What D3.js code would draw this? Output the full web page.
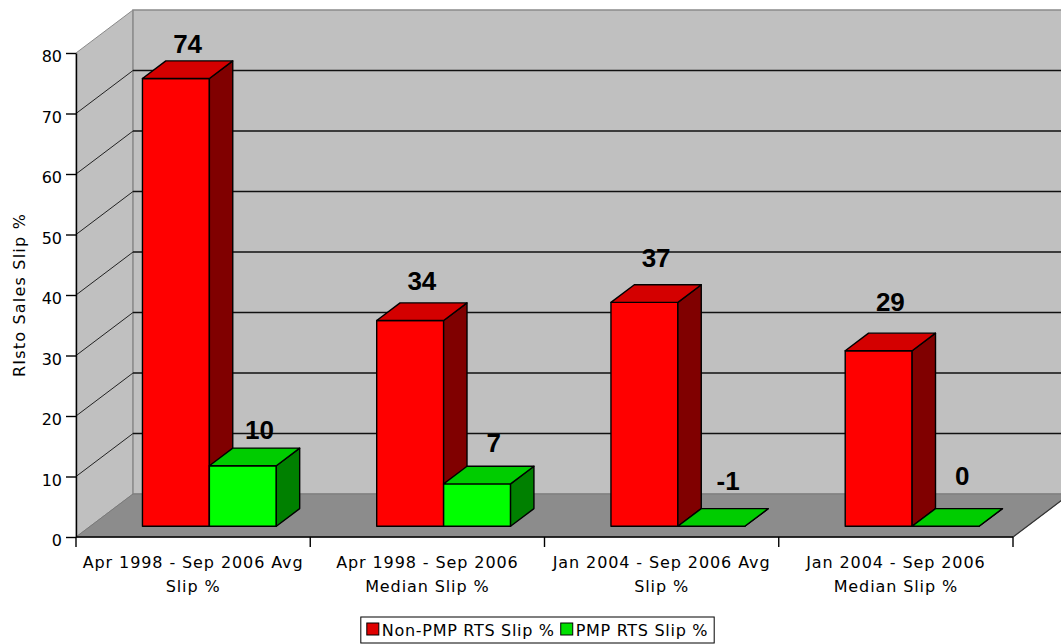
<!DOCTYPE html>
<html>
<head>
<meta charset="utf-8">
<script src="https://cdn.jsdelivr.net/npm/d3@7/dist/d3.min.js"></script>
<style>
  html, body { margin: 0; padding: 0; background: #fff; }
  svg { display: block; }
  .tick-label, .cat-label, .axis-title, .legend-text { font-family: "DejaVu Sans", "Liberation Sans", Arial, sans-serif; fill: #000; }
  .value-label { font-family: "Liberation Sans", Arial, sans-serif; font-weight: bold; fill: #000; }
</style>
</head>
<body>
<svg id="chart" width="1061" height="644"></svg>
<script>
// ---- data ----
const categories = ["c1", "c2", "c3", "c4"];
const categoryLine1 = ["Apr 1998 - Sep 2006 Avg", "Apr 1998 - Sep 2006", "Jan 2004 - Sep 2006 Avg", "Jan 2004 - Sep 2006"];
const categoryLine2 = ["Slip %", "Median Slip %", "Slip %", "Median Slip %"];
const seriesNames = ["Non-PMP RTS Slip %", "PMP RTS Slip %"];
const nonPmpValues = [74, 34, 37, 29];
const pmpValues = [10, 7, -1, 0];
const yTicks = [0, 10, 20, 30, 40, 50, 60, 70, 80];
const yTitle = "RIsto Sales Slip %";

// ---- styling ----
const faceColors = [
  { front: "#ff0000", top: "#d40000", side: "#800000" },
  { front: "#00ff00", top: "#00cc00", side: "#008000" }
];
const swatchColors = ["#e00000", "#00e000"];

// ---- geometry of the oblique 3-D box ----
const svg = d3.select("#chart");
const DX = 57, DY = 43;              // full depth of the floor, projected
const frontDepth = 0.25, backDepth = 0.66;  // where the bar row sits in depth
const axisX = 76, axisRight = 1013;

const y = d3.scaleLinear().domain([0, 80]).range([537, 53]).clamp(true);
const x = d3.scaleBand().domain(categories).range([axisX, axisRight]).padding(0);
const xs = d3.scaleBand().domain([0, 1]).range([0, x.bandwidth()])
  .paddingInner(0).paddingOuter(0.75).align(0.52);

const series = [nonPmpValues, pmpValues];
const pts = a => a.map(p => p.join(",")).join(" ");

const walls = svg.append("g");
// left wall
walls.append("polygon")
  .attr("points", pts([[axisX, y(0)], [axisX, y(80)], [axisX + DX, y(80) - DY], [axisX + DX, y(0) - DY]]))
  .attr("fill", "#c0c0c0").attr("stroke", "#8a8a8a").attr("stroke-width", 1);
// back wall
walls.append("polygon")
  .attr("points", pts([[axisX + DX, y(80) - DY], [axisRight + DX, y(80) - DY], [axisRight + DX, y(0) - DY], [axisX + DX, y(0) - DY]]))
  .attr("fill", "#c0c0c0").attr("stroke", "#8a8a8a").attr("stroke-width", 1.5);

// gridlines on both walls
const inner = yTicks.filter(v => v > 0 && v < 80);
walls.selectAll("line.lgrid").data(inner).join("line")
  .attr("x1", axisX).attr("y1", d => y(d))
  .attr("x2", axisX + DX).attr("y2", d => y(d) - DY)
  .attr("stroke", "#222").attr("stroke-width", 1);
walls.selectAll("line.bgrid").data(inner).join("line")
  .attr("x1", axisX + DX).attr("y1", d => y(d) - DY)
  .attr("x2", axisRight + DX).attr("y2", d => y(d) - DY)
  .attr("stroke", "#111").attr("stroke-width", 1.6);

// floor
walls.append("polygon")
  .attr("points", pts([[axisX, y(0)], [axisRight, y(0)], [axisRight + DX, y(0) - DY], [axisX + DX, y(0) - DY]]))
  .attr("fill", "#8c8c8c").attr("stroke", "#7a7a7a").attr("stroke-width", 1);
walls.append("line")
  .attr("x1", axisRight).attr("y1", y(0)).attr("x2", axisRight + DX).attr("y2", y(0) - DY)
  .attr("stroke", "#333").attr("stroke-width", 1.2);

// ---- bars ----
const barsG = svg.append("g");
const labelData = [];
categories.forEach((c, i) => {
  series.forEach((vals, s) => {
    const v = vals[i];
    const w = xs.bandwidth();
    const xL = x(c) + xs(s) + frontDepth * DX;
    const yB = y(0) - frontDepth * DY;
    const yT = y(v) - frontDepth * DY;
    const bx = (backDepth - frontDepth) * DX, by = (backDepth - frontDepth) * DY;
    const col = faceColors[s];
    const g = barsG.append("g").attr("stroke", "#000").attr("stroke-width", 1.4).attr("stroke-linejoin", "round");
    g.append("polygon").attr("fill", col.front)
      .attr("points", pts([[xL, yT], [xL + w, yT], [xL + w, yB], [xL, yB]]));
    g.append("polygon").attr("fill", col.side)
      .attr("points", pts([[xL + w, yT], [xL + w + bx, yT - by], [xL + w + bx, yB - by], [xL + w, yB]]));
    g.append("polygon").attr("fill", col.top)
      .attr("points", pts([[xL, yT], [xL + w, yT], [xL + w + bx, yT - by], [xL + bx, yT - by]]));
    // labels float a little higher above bars further to the right
    const lx = xL + w / 2 + bx / 2 + (s === 1 ? 5 : 0);
    const lift = 8 + 0.02 * (lx - x.range()[0] - 112);
    labelData.push({ v, x: lx, y: yT - by - lift });
  });
});

svg.append("g").selectAll("text").data(labelData).join("text")
  .attr("class", "value-label")
  .attr("x", d => d.x).attr("y", d => d.y)
  .attr("text-anchor", "middle").attr("font-size", 26)
  .text(d => d.v);

// ---- y axis ----
const yAxis = d3.axisLeft(y).tickValues(yTicks).tickSize(10).tickSizeOuter(0).tickPadding(4);
const yg = svg.append("g").attr("transform", `translate(${axisX},0)`).call(yAxis);
yg.select(".domain").attr("stroke", "#000").attr("stroke-width", 1.4);
yg.selectAll(".tick line").attr("stroke", "#000").attr("stroke-width", 1.4);
yg.selectAll(".tick text").attr("class", "tick-label").attr("font-size", 16).attr("dy", "0.56em");

svg.append("text").attr("class", "axis-title")
  .attr("transform", `translate(25,${(y(0) + y(80)) / 2}) rotate(-90)`)
  .attr("text-anchor", "middle").attr("font-size", 16).attr("letter-spacing", "1.2px")
  .text(yTitle);

// ---- category axis (front edge of the floor) ----
const xg = svg.append("g");
xg.append("line").attr("x1", axisX).attr("x2", axisRight).attr("y1", y(0)).attr("y2", y(0))
  .attr("stroke", "#000").attr("stroke-width", 1.4);
const bounds = categories.map(c => x(c)).concat([axisRight]);
xg.selectAll("line.tk").data(bounds).join("line")
  .attr("x1", d => d).attr("x2", d => d).attr("y1", y(0)).attr("y2", y(0) + 10)
  .attr("stroke", "#000").attr("stroke-width", 1.4);
const cl = xg.selectAll("text.cat").data(categories).join("text")
  .attr("class", "cat-label").attr("font-size", 16).attr("letter-spacing", "0.9px")
  .attr("text-anchor", "middle");
cl.append("tspan").attr("x", d => x(d) + x.bandwidth() / 2).attr("y", 568).text((d, i) => categoryLine1[i]);
cl.append("tspan").attr("x", d => x(d) + x.bandwidth() / 2).attr("y", 592).text((d, i) => categoryLine2[i]);

// ---- legend ----
const lg = svg.append("g");
const items = lg.selectAll("g").data(seriesNames).join("g");
items.append("rect").attr("width", 12).attr("height", 12).attr("y", 623)
  .attr("fill", (d, i) => swatchColors[i]).attr("stroke", "#000").attr("stroke-width", 1);
items.append("text").attr("class", "legend-text").attr("font-size", 16)
  .attr("letter-spacing", "0.7px").attr("y", 636).text(d => d);
const widths = [];
items.each(function () {
  widths.push(d3.select(this).select("text").node().getComputedTextLength());
});
const swatchW = 15, itemGap = 6, pad = 6;
const totalW = widths.reduce((a, b) => a + b, 0) + 2 * swatchW + itemGap + 2 * pad;
const legendX = 537.5 - totalW / 2;
let cursor = legendX + pad;
items.each(function (d, i) {
  const g = d3.select(this);
  g.select("rect").attr("x", cursor);
  g.select("text").attr("x", cursor + swatchW);
  cursor += swatchW + widths[i] + itemGap;
});
lg.insert("rect", ":first-child").attr("x", legendX).attr("y", 617).attr("width", totalW).attr("height", 26)
  .attr("fill", "#fff").attr("stroke", "#000").attr("stroke-width", 1);
</script>
</body>
</html>
